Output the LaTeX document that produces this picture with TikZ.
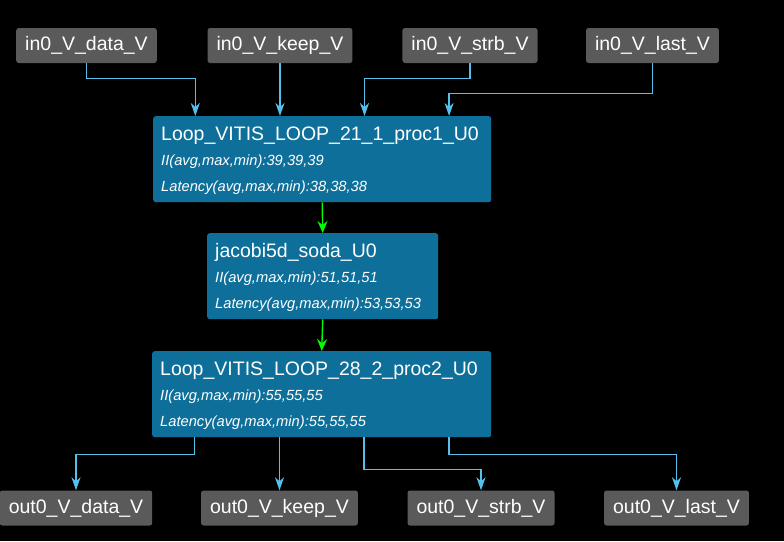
\documentclass[tikz,border=0pt]{standalone}
\usepackage{fontspec}
\setmainfont{Liberation Sans}
\usetikzlibrary{arrows.meta}
\usetikzlibrary{calc}

\begin{document}
\begin{tikzpicture}[x=1pt,y=-1pt,
  port/.style={fill=portgray, text=white, rounded corners=2.5pt,
    minimum height=35pt, inner xsep=9pt, inner ysep=0pt,
    font=\fontsize{19.5}{22}\selectfont},
  module/.style={fill=modblue, rounded corners=2.5pt, anchor=north west,
    minimum height=86pt, inner sep=0pt},
  modtitle/.style={anchor=base west, inner sep=0pt, text=white,
    font=\fontsize{19.5}{22}\selectfont},
  modstat/.style={anchor=base west, inner sep=0pt, text=white,
    font=\fontsize{14.7}{17}\selectfont\itshape},
  chan/.style={draw=chancyan, line width=1.4pt,
    -{Stealth[length=13pt,width=9pt,inset=4pt]}},
  flow/.style={draw=flowgreen, line width=1.4pt,
    -{Stealth[length=12pt,width=10pt,inset=4pt]}}]

\definecolor{modblue}{RGB}{14,112,154}
\definecolor{portgray}{RGB}{90,90,90}
\definecolor{chancyan}{RGB}{86,192,236}
\definecolor{flowgreen}{RGB}{0,255,0}

% background
\useasboundingbox (0,0) rectangle (784,541);
\fill[black] (0,0) rectangle (784,541);

% input ports
\node[port] (inData) at ( 86.5,45.5) {in0\_V\_data\_V};
\node[port] (inKeep) at (280.0,45.5) {in0\_V\_keep\_V};
\node[port] (inStrb) at (470.0,45.5) {in0\_V\_strb\_V};
\node[port] (inLast) at (652.5,45.5) {in0\_V\_last\_V};

% modules
\node[module, minimum width=338pt] (loopA) at (153,116) {};
\node[modtitle] at ($(loopA.north west)+(8,24)$) {Loop\_VITIS\_LOOP\_21\_1\_proc1\_U0};
\node[modstat]  at ($(loopA.north west)+(8,49)$) {II(avg,max,min):39,39,39};
\node[modstat]  at ($(loopA.north west)+(8,75)$) {Latency(avg,max,min):38,38,38};

\node[module, minimum width=231pt] (soda) at (207,233) {};
\node[modtitle] at ($(soda.north west)+(8,24)$) {jacobi5d\_soda\_U0};
\node[modstat]  at ($(soda.north west)+(8,49)$) {II(avg,max,min):51,51,51};
\node[modstat]  at ($(soda.north west)+(8,75)$) {Latency(avg,max,min):53,53,53};

\node[module, minimum width=339pt] (loopB) at (152,351) {};
\node[modtitle] at ($(loopB.north west)+(8,24)$) {Loop\_VITIS\_LOOP\_28\_2\_proc2\_U0};
\node[modstat]  at ($(loopB.north west)+(8,49)$) {II(avg,max,min):55,55,55};
\node[modstat]  at ($(loopB.north west)+(8,75)$) {Latency(avg,max,min):55,55,55};

% output ports
\node[port] (outData) at ( 76.0,508) {out0\_V\_data\_V};
\node[port] (outKeep) at (279.5,508) {out0\_V\_keep\_V};
\node[port] (outStrb) at (481.0,508) {out0\_V\_strb\_V};
\node[port] (outLast) at (676.5,508) {out0\_V\_last\_V};

% input channels
\draw[chan] (inData.south) -- ++(0,15) -| ($(loopA.north west)!0.125!(loopA.north east)$);
\draw[chan] (inKeep.south) -- (inKeep.south |- loopA.north);
\draw[chan] (inStrb.south) -- ++(0,15) -| ($(loopA.north west)!0.625!(loopA.north east)$);
\draw[chan] (inLast.south) -- ++(0,30) -| ($(loopA.north west)!0.875!(loopA.north east)$);

% dataflow
\draw[flow] (loopA.south) -- (soda.north);
\draw[flow] (soda.south) -- (loopB.north);

% output channels
\draw[chan] ($(loopB.south west)!0.125!(loopB.south east)$) -- ++(0,17) -| (outData.north);
\draw[chan] (outKeep.north |- loopB.south) -- (outKeep.north);
\draw[chan] ($(loopB.south west)!0.625!(loopB.south east)$) -- ++(0,32) -| (outStrb.north);
\draw[chan] ($(loopB.south west)!0.875!(loopB.south east)$) -- ++(0,17) -| (outLast.north);

\end{tikzpicture}
\end{document}
